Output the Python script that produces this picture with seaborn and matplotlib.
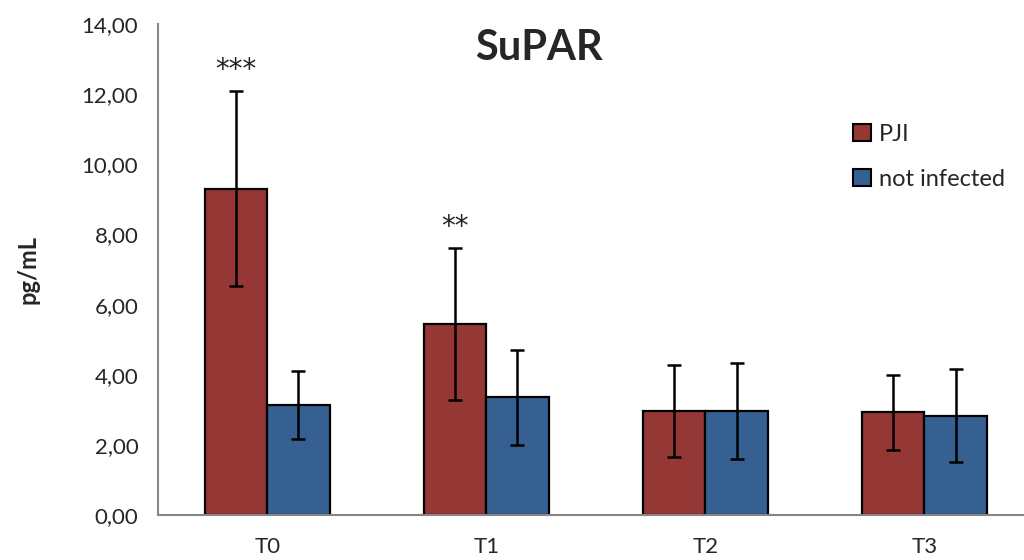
import numpy as np
import pandas as pd
import matplotlib
matplotlib.use("Agg")
import matplotlib.pyplot as plt
from matplotlib.ticker import FuncFormatter, FixedLocator
import seaborn as sns

# ====== data ======
timepoints = ["T0", "T1", "T2", "T3"]
groups = ["PJI", "not infected"]
pji_mean = [9.30, 5.45, 2.97, 2.93]
pji_sd = [2.78, 2.17, 1.31, 1.06]
ni_mean = [3.14, 3.36, 2.97, 2.84]
ni_sd = [0.98, 1.35, 1.38, 1.33]
stars = ["***", "**", "", ""]

colors = ["#953735", "#366092"]

df = pd.DataFrame({
    "time": timepoints * 2,
    "group": [groups[0]] * 4 + [groups[1]] * 4,
    "value": pji_mean + ni_mean,
    "sd": pji_sd + ni_sd,
})

sns.set_style("white")
plt.rcParams["font.family"] = ["Lato", "DejaVu Sans"]

fig = plt.figure(figsize=(10.24, 5.6), dpi=100)
ax = fig.add_axes([0.154, 0.080, 0.846, 0.877])

bw = 0.57
sns.barplot(data=df, x="time", y="value", hue="group", order=timepoints,
            hue_order=groups, palette=colors, width=bw, errorbar=None,
            edgecolor="black", linewidth=1.6, saturation=1, ax=ax)

# error bars at the bar centers seaborn placed
bars = [p for p in ax.patches if p.get_height() > 0][:8]
xs = [p.get_x() + p.get_width() / 2 for p in bars]
hs = [p.get_height() for p in bars]
ax.errorbar(xs, hs, yerr=df["sd"].values, fmt="none", ecolor="black",
            elinewidth=1.8, capsize=5, capthick=1.8, zorder=5)

# significance stars above PJI bars
for i, s in enumerate(stars):
    if s:
        ax.text(xs[i], pji_mean[i] + pji_sd[i] + 0.6, s, ha="center",
                va="center", fontsize=20, color="#222222",
                family=["DejaVu Sans"])

ax.set_ylim(0, 14)
ax.set_xlim(-0.5, 3.455)
ax.yaxis.set_major_locator(FixedLocator(np.arange(0, 15, 2)))
ax.yaxis.set_major_formatter(FuncFormatter(lambda v, _: f"{v:.2f}".replace(".", ",")))
ax.set_xticks(range(4))
ax.set_xticklabels(timepoints)
ax.set_xticks([0.5, 1.5, 2.5], minor=True)
ax.tick_params(axis="x", which="major", length=0, pad=16, labelsize=16, colors="#262626")
ax.tick_params(axis="x", which="minor", length=6, width=1.2, direction="out", color="#868686")
ax.tick_params(axis="y", length=6, width=1.2, direction="out", color="#868686",
               labelsize=16, labelcolor="#262626", pad=8)

for side in ["top", "right"]:
    ax.spines[side].set_visible(False)
for side in ["left", "bottom"]:
    ax.spines[side].set_color("#868686")
    ax.spines[side].set_linewidth(1.5)

ax.set_xlabel("")
ax.set_ylabel("pg/mL", fontsize=17, fontweight="bold", labelpad=30)
ax.text(0.44, 0.951, "SuPAR", transform=ax.transAxes, ha="center", va="center",
        fontsize=30, fontweight="bold")

leg = ax.legend(loc="upper left", bbox_to_anchor=(0.778, 0.84), frameon=False,
                fontsize=17, handlelength=0.75, handleheight=0.75,
                labelspacing=1.0, handletextpad=0.35)
for h in leg.legend_handles:
    h.set_edgecolor("black")
    h.set_linewidth(1.5)

fig.savefig("out.png", dpi=100)
